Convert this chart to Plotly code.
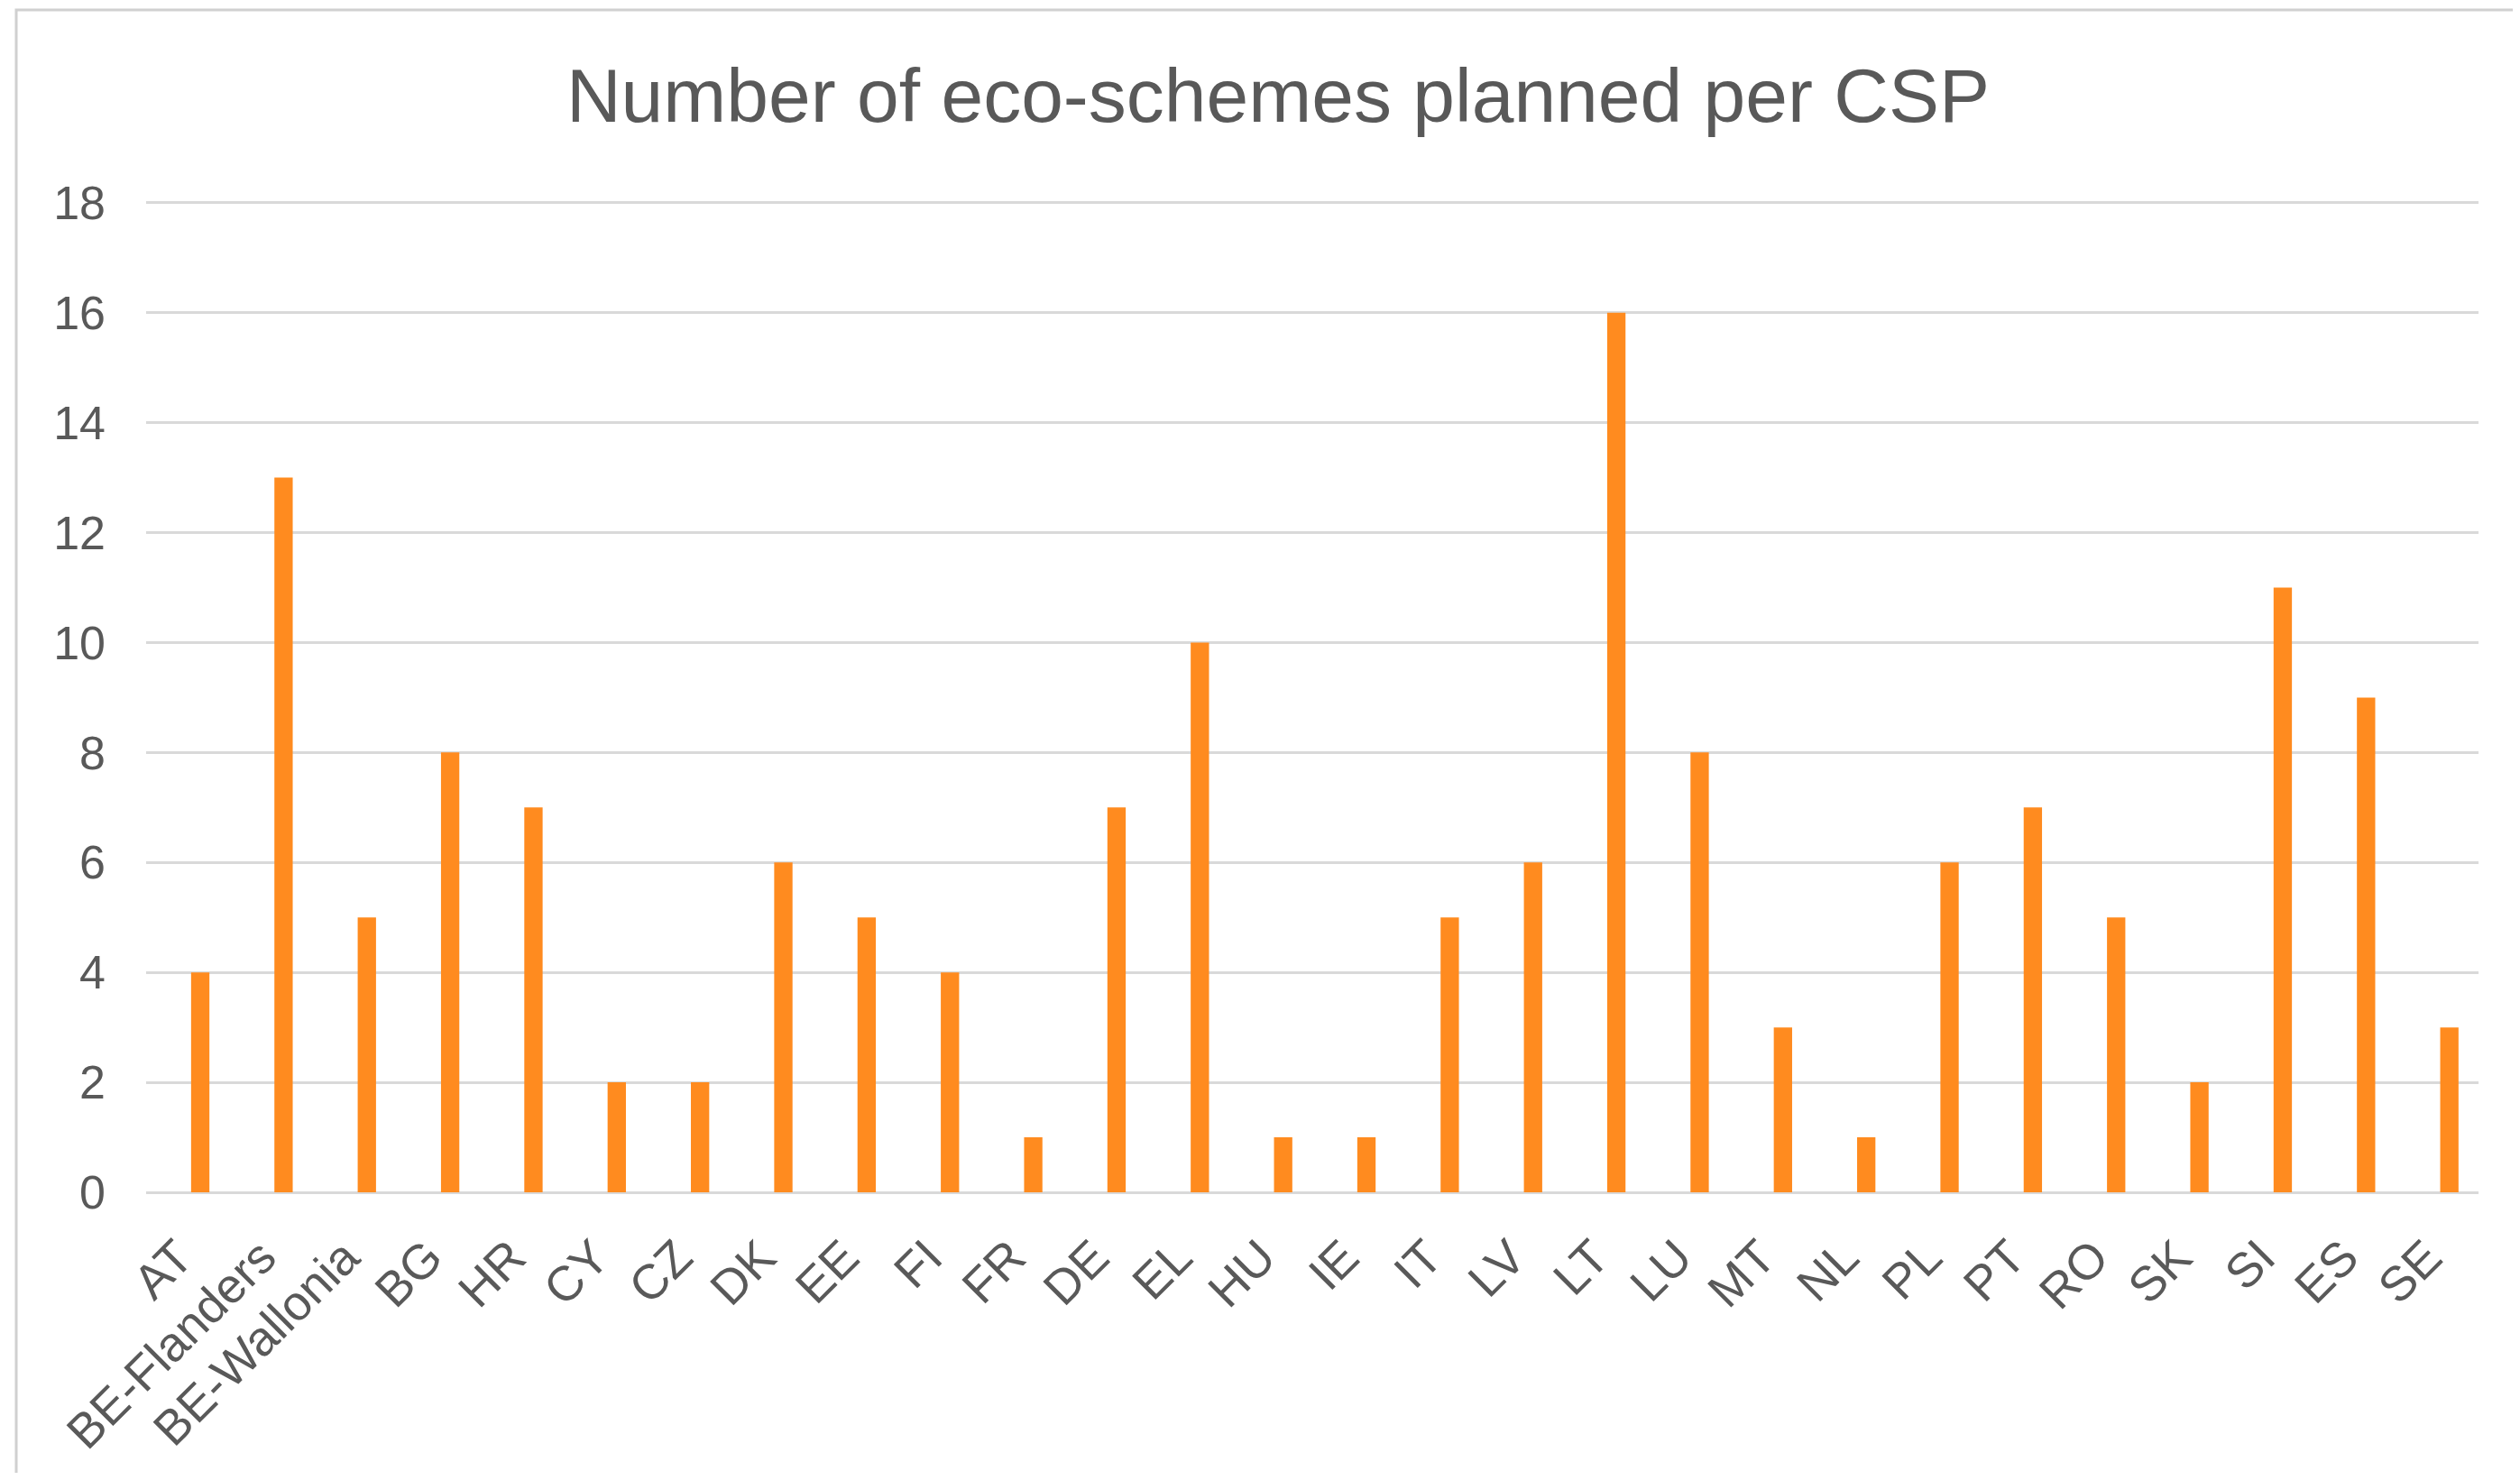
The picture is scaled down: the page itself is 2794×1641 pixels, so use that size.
import plotly.graph_objects as go

categories = ["AT", "BE-Flanders", "BE-Wallonia", "BG", "HR", "CY", "CZ", "DK", "EE", "FI",
              "FR", "DE", "EL", "HU", "IE", "IT", "LV", "LT", "LU", "MT", "NL", "PL", "PT",
              "RO", "SK", "SI", "ES", "SE"]
eco_schemes = [4, 13, 5, 8, 7, 2, 2, 6, 5, 4, 1, 7, 10, 1, 1, 5, 6, 16, 8, 3, 1, 6, 7, 5, 2, 11, 9, 3]
y_ticks = [0, 2, 4, 6, 8, 10, 12, 14, 16, 18]

# page has an 8px body margin, so the figure is drawn in a slightly smaller box
W, H = 2778, 1625
L, R, T, B = 154, 38, 215, 311
pw = W - L - R
ph = H - T - B

FONT = "Liberation Sans, Arial, sans-serif"
TXT = "#595959"
GRID = "#D9D9D9"

fig = go.Figure(go.Bar(
    x=list(range(len(categories))),
    y=eco_schemes,
    marker=dict(color="#FF8B1F", line=dict(width=0)),
    hoverinfo="x+y",
))


def px2paper_x(px):
    return (px - L) / pw


def px2paper_y(py):
    return (H - B - py) / ph


# chart-area border (extends beyond the image on right/bottom)
fig.add_shape(type="rect", xref="paper", yref="paper",
              x0=px2paper_x(10), x1=px2paper_x(2810),
              y0=px2paper_y(1660), y1=px2paper_y(3),
              line=dict(color="#D0D0D0", width=3), fillcolor="rgba(0,0,0,0)", layer="below")

fig.update_layout(
    width=W, height=H, autosize=False,
    margin=dict(l=L, r=R, t=T, b=B, pad=0),
    paper_bgcolor="white", plot_bgcolor="white",
    bargap=0.78,
    showlegend=False,
    font=dict(family=FONT, color=TXT, size=52),
    title=dict(text="Number of eco-schemes planned per CSP",
               x=1409 / W, xanchor="center", xref="container",
               y=1 - 98 / H, yanchor="middle", yref="container",
               font=dict(family=FONT, size=84, color=TXT)),
    xaxis=dict(
        tickmode="array", tickvals=list(range(len(categories))),
        ticktext=[c + "\u00a0\u00a0\u200a" for c in categories],
        range=[-0.65, 27.35], tickangle=-45,
        showgrid=False, zeroline=False, showline=False, ticks="",
        ticklabelstandoff=4,
        tickfont=dict(family=FONT, size=54, color=TXT),
    ),
    yaxis=dict(
        range=[0, 18.03], tickmode="array", tickvals=y_ticks,
        showgrid=True, gridcolor=GRID, gridwidth=3,
        zeroline=True, zerolinecolor=GRID, zerolinewidth=3,
        showline=False, ticks="",
        ticklabelstandoff=44,
        tickfont=dict(family=FONT, size=52, color=TXT),
    ),
)

fig.write_html("out.html")
